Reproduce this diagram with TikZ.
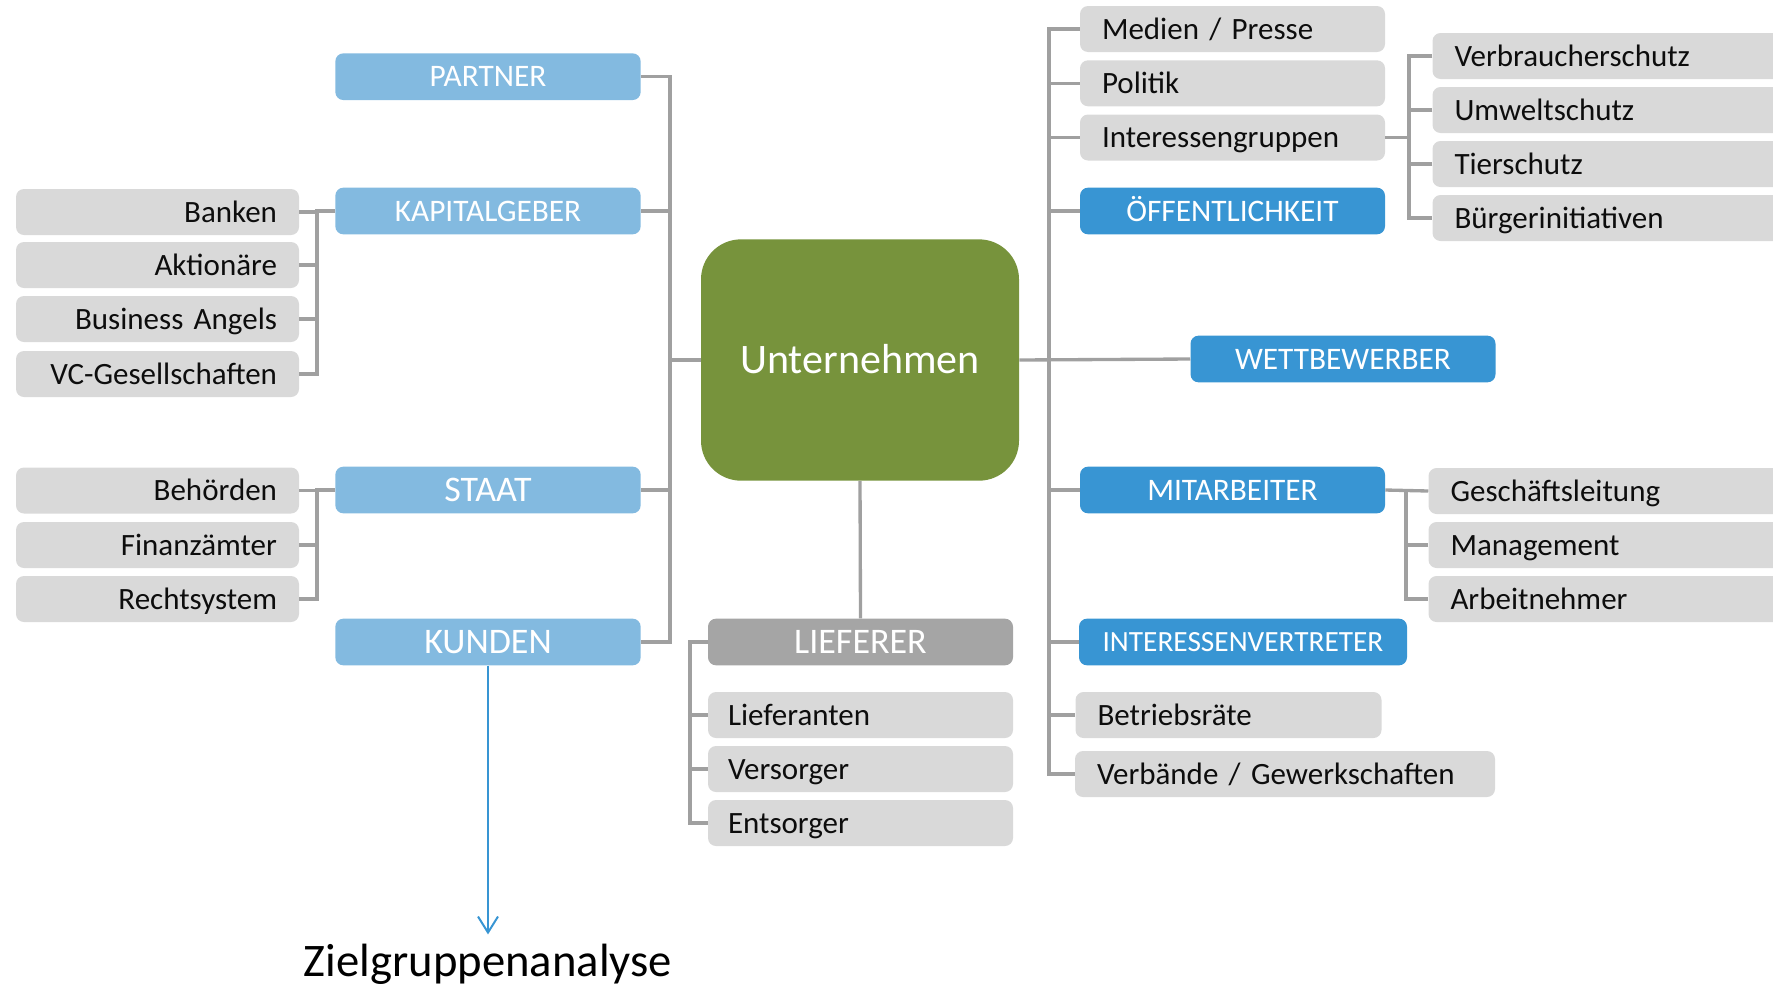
\documentclass[tikz,border=0pt]{standalone}
\usepackage{fontspec}
\setmainfont{Carlito}
\usetikzlibrary{arrows.meta}
\definecolor{lblue}{HTML}{83BAE0}
\definecolor{dblue}{HTML}{3895D3}
\definecolor{ugreen}{HTML}{77933C}
\definecolor{greybox}{HTML}{D9D9D9}
\definecolor{liefgrey}{HTML}{A5A5A5}
\definecolor{conngrey}{HTML}{A0A0A0}
\tikzset{
  box/.style={rounded corners=6pt, inner ysep=0pt, text depth=0pt},
  fs/.style 2 args={font=\fontsize{#1}{#1}\selectfont, text height=#2},
  bluebox/.style={box, fill=lblue, text=white, minimum width=229pt, minimum height=35pt, inner xsep=0pt, fs={23.5pt}{15.1pt}},
  bluebig/.style={bluebox, fs={27pt}{17.4pt}},
  darkbox/.style={box, fill=dblue, text=white, minimum width=228.75pt, minimum height=35pt, inner xsep=0pt, fs={23.5pt}{15.1pt}},
  greyl/.style={box, fill=greybox, text=black!95, minimum height=34.5pt, inner xsep=16.5pt, align=left, fs={23.25pt}{15pt}},
  greyr/.style={box, fill=greybox, text=black!95, minimum height=34.5pt, inner xsep=16.5pt, align=right, text width=179.25pt, fs={23.25pt}{15pt}},
  conn/.style={draw=conngrey, line width=2.5pt},
  arrowline/.style={draw=dblue, line width=1.5pt, -{Straight Barb[length=12pt, width=15pt, line width=1.5pt]}}
}
\begin{document}
\begin{tikzpicture}[x=0.75pt, y=-0.75pt]
\useasboundingbox (0,0) rectangle (1773,986);
\clip (0,0) rectangle (1773,986);

% centre
\node[box, fill=ugreen, rounded corners=30pt, minimum width=238.5pt, minimum height=181pt, text=white, fs={31.5pt}{20.3pt}] (unt) at (860,360) {Unternehmen};

% left blue
\node[bluebox] (partner) at (488,76.7) {PARTNER};
\node[bluebox] (kapital) at (488,211) {KAPITALGEBER};
\node[bluebig] (staat) at (488,490) {STAAT};
\node[bluebig] (kunden) at (488,642) {KUNDEN};

% left grey
\node[greyr] (banken) at (157.5,212) {Banken};
\node[greyr] (aktionaere) at (157.5,265) {Aktionäre};
\node[greyr] (business) at (157.5,319) {Business Angels};
\node[greyr] (vc) at (157.5,374) {VC-Gesellschaften};
\node[greyr] (behoerden) at (157.5,490.5) {Behörden};
\node[greyr] (finanz) at (157.5,545) {Finanzämter};
\node[greyr] (recht) at (157.5,599) {Rechtsystem};

% right column
\node[greyl, text width=195.75pt] (medien) at (1232.5,29) {Medien / Presse};
\node[greyl, text width=195.75pt] (politik) at (1232.5,83.3) {Politik};
\node[greyl, text width=195.75pt] (interessen) at (1232.5,137.5) {Interessengruppen};
\node[darkbox] (oeff) at (1232.5,211) {ÖFFENTLICHKEIT};
\node[darkbox] (wettb) at (1343,359) {WETTBEWERBER};
\node[darkbox] (mitarb) at (1232.5,490) {MITARBEITER};
\node[darkbox, minimum width=246pt, fs={22pt}{14.2pt}] (ivertr) at (1243,642) {INTERESSENVERTRETER};
\node[greyl, text width=196.5pt] (betriebs) at (1228.5,715) {Betriebsräte};
\node[greyl, text width=282pt] (verbaende) at (1285,774) {Verbände / Gewerkschaften};

% far right
\node[greyl, text width=249.75pt] (verbr) at (1621,56) {Verbraucherschutz};
\node[greyl, text width=249.75pt] (umwelt) at (1621,110) {Umweltschutz};
\node[greyl, text width=249.75pt] (tier) at (1621,164) {Tierschutz};
\node[greyl, text width=249.75pt] (buerger) at (1621,218) {Bürgerinitiativen};
\node[greyl, text width=253.1pt] (gesch) at (1619.25,491) {Geschäftsleitung};
\node[greyl, text width=253.1pt] (manag) at (1619.25,545) {Management};
\node[greyl, text width=253.1pt] (arbeitn) at (1619.25,599) {Arbeitnehmer};

% bottom centre
\node[box, fill=liefgrey, text=white, minimum width=228.75pt, minimum height=35pt, inner xsep=0pt, fs={27pt}{17.4pt}] (lieferer) at (860.5,642) {LIEFERER};
\node[greyl, inner xsep=15pt, text width=198.75pt] (liefer) at (860.5,715) {Lieferanten};
\node[greyl, inner xsep=15pt, text width=198.75pt] (versorger) at (860.5,769) {Versorger};
\node[greyl, inner xsep=15pt, text width=198.75pt] (entsorger) at (860.5,823) {Entsorger};

% target
\node[text depth=0pt, inner ysep=9.75pt, fs={35pt}{21.5pt}, text=black] (ziel) at (488,962) {Zielgruppenanalyse};

% bracket coordinates
\coordinate (lm) at (670,0);
\coordinate (kb) at (317,0);
\coordinate (rm) at (1049,0);
\coordinate (ib) at (1409,0);
\coordinate (mb) at (1406,0);
\coordinate (lb) at (690,0);

% left main spine
\draw[conn] (partner.east) -- (partner.east -| lm) -- (kunden.east -| lm) -- (kunden.east);
\draw[conn] (kapital.east) -- (kapital.east -| lm);
\draw[conn] (staat.east) -- (staat.east -| lm);
\draw[conn] (unt.west) -- (unt.west -| lm);

% Kapitalgeber bracket
\draw[conn] (kapital.west) -- (kapital.west -| kb) |- (vc.east);
\draw[conn] (banken.east) -- (banken.east -| kb);
\draw[conn] (aktionaere.east) -- (aktionaere.east -| kb);
\draw[conn] (business.east) -- (business.east -| kb);

% Staat bracket
\draw[conn] (staat.west) -- (staat.west -| kb) |- (recht.east);
\draw[conn] (behoerden.east) -- (behoerden.east -| kb);
\draw[conn] (finanz.east) -- (finanz.east -| kb);

% right main spine
\draw[conn] (medien.west) -- (medien.west -| rm) -- (verbaende.west -| rm) -- (verbaende.west);
\draw[conn] (politik.west) -- (politik.west -| rm);
\draw[conn] (interessen.west) -- (interessen.west -| rm);
\draw[conn] (oeff.west) -- (oeff.west -| rm);
\draw[conn] (mitarb.west) -- (mitarb.west -| rm);
\draw[conn] (ivertr.west) -- (ivertr.west -| rm);
\draw[conn] (betriebs.west) -- (betriebs.west -| rm);
\draw[conn] (unt.east) -- (wettb.west);

% Interessengruppen bracket
\draw[conn] (interessen.east) -- (interessen.east -| ib);
\draw[conn] (verbr.west) -- (verbr.west -| ib) -- (buerger.west -| ib) -- (buerger.west);
\draw[conn] (umwelt.west) -- (umwelt.west -| ib);
\draw[conn] (tier.west) -- (tier.west -| ib);

% Mitarbeiter bracket
\draw[conn] (mitarb.east) -- (gesch.west);
\draw[conn] (gesch.west -| mb) -- (arbeitn.west -| mb) -- (arbeitn.west);
\draw[conn] (manag.west) -- (manag.west -| mb);

% Lieferer
\draw[conn] (unt.south) -- (lieferer.north);
\draw[conn] (lieferer.west) -- (lieferer.west -| lb) |- (entsorger.west);
\draw[conn] (liefer.west) -- (liefer.west -| lb);
\draw[conn] (versorger.west) -- (versorger.west -| lb);

% arrow
\draw[arrowline] (kunden.south) -- (ziel.north);
\end{tikzpicture}
\end{document}
